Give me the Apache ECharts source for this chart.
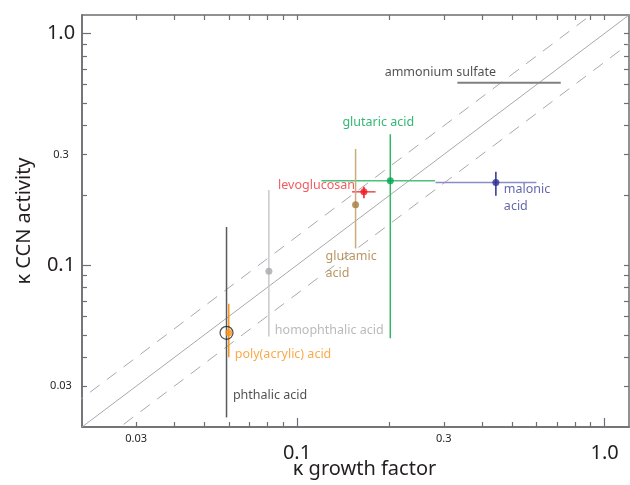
<!DOCTYPE html>
<html>
<head>
<meta charset="utf-8">
<script src="https://cdn.jsdelivr.net/npm/echarts@6/dist/echarts.min.js"></script>
<style>html,body{margin:0;padding:0;background:#fff}#c{width:630px;height:485px}</style>
</head>
<body>
<div id="c"></div>
<script>
// ---- data ----
const names = ['ammonium sulfate','glutaric acid','malonic acid','levoglucosan','glutamic acid','homophthalic acid','poly(acrylic) acid','phthalic acid'];
const kappaGF  = [0.49, 0.201, 0.443, 0.165, 0.155, 0.081, 0.060, 0.059];
const kappaCCN = [0.612, 0.231, 0.227, 0.207, 0.182, 0.094, 0.051, 0.051];
const gfLow    = [0.332, 0.120, 0.282, 0.151, null, null, null, null];
const gfHigh   = [0.720, 0.281, 0.600, 0.180, null, null, null, null];
const ccnLow   = [null, 0.0483, 0.199, 0.194, 0.118, 0.0491, 0.040, 0.0220];
const ccnHigh  = [null, 0.367, 0.253, 0.218, 0.317, 0.211, 0.068, 0.146];
const tickLabelValues = [0.03, 0.1, 0.3, 1.0];
const tickLabels = ['0.03', '0.1', '0.3', '1.0'];
const majorTicks = [0.1, 1.0];
const minorTicks = [0.03,0.04,0.05,0.06,0.07,0.08,0.09,0.2,0.3,0.4,0.5,0.6,0.7,0.8,0.9];
const axisMin = 0.02, axisMax = 1.2;
const bandFactor = 1.33;

// ---- styles ----
const styles = {
  'ammonium sulfate':  {pt:null, v:'#808080', h:'#808080', lw:2, label:{align:'center', offset:[-69,-10], color:'#231f20'}},
  'glutaric acid':     {pt:'#00a651', v:'#2fb866', h:'#4cc27b', lw:1.5, label:{align:'center', offset:[-12,-58], color:'#00a651'}},
  'malonic acid':      {pt:'#2e3192', v:'#2e3192', h:'#8b8ec6', lw:1.5, label:{align:'left', offset:[8,15], color:'#3b3f98'}, text:'malonic\nacid'},
  'levoglucosan':      {pt:'#ed1c24', v:'#ed1c24', h:'#ef4a50', lw:1.5, label:{align:'right', offset:[-9,-6], color:'#ed3237'}},
  'glutamic acid':     {pt:'#a67c3c', v:'#c9ab7f', h:'#c9ab7f', lw:1.5, label:{align:'left', offset:[-30,60], color:'#a67c3c'}, text:'glutamic\nacid'},
  'homophthalic acid': {pt:'#a7a9ac', v:'#c7c9cc', h:'#c7c9cc', lw:1.5, label:{align:'left', offset:[6,59], color:'#a7a9ac'}},
  'poly(acrylic) acid':{pt:'#f7941d', v:'#f7941d', h:'#f7941d', lw:1.5, label:{align:'left', offset:[6,22], color:'#f7941d'}},
  'phthalic acid':     {pt:'open', v:'#58595b', h:'#58595b', lw:1.5, label:{align:'left', offset:[7,63], color:'#231f20'}}
};
const FONT = 'Noto Sans';
const L = v => Math.log10(v);
const lmin = L(axisMin), lmax = L(axisMax);

function fmt(v){
  let best = 0;
  tickLabelValues.forEach((t,i)=>{ if (Math.abs(L(t)-v) < Math.abs(L(tickLabelValues[best])-v)) best = i; });
  const lab = tickLabels[best];
  return (tickLabelValues[best] === 0.1 || tickLabelValues[best] === 1.0) ? '{big|' + lab + '}' : '{small|' + lab + '}';
}
const richX = {big:{fontSize:20, fontFamily:FONT, color:'#231f20', padding:[11,0,0,0]}, small:{fontSize:11, fontFamily:FONT, color:'#231f20', padding:[1,0,0,0]}};
const richY = {big:{fontSize:20, fontFamily:FONT, color:'#231f20'}, small:{fontSize:11, fontFamily:FONT, color:'#231f20'}};
const axisLineStyle = {show:true, onZero:false, lineStyle:{color:'#6d6e71', width:1.5}};
const tickStyle = {color:'#6d6e71', width:1.2};

function mkAxis(pos, kind, isX){
  const a = {type:'value', min:lmin, max:lmax, position:pos, offset:0, splitLine:{show:false},
    axisLine: axisLineStyle, axisLabel:{show:false}, axisPointer:{show:false}};
  if (kind === 'major') {
    a.axisTick = {show:true, inside:true, length:9, lineStyle:tickStyle, customValues: majorTicks.map(L)};
    a.axisLabel = {show:true, customValues: tickLabelValues.map(L), formatter: fmt, rich: isX ? richX : richY,
      margin: isX ? 5 : 21, align:'center'};
    a.name = isX ? 'κ growth factor' : 'κ CCN activity';
    a.nameLocation = 'middle';
    a.nameGap = isX ? 32 : 48;
    a.nameMoveOverlap = false;
    a.nameTextStyle = {fontSize:20, fontFamily:FONT, color:'#231f20', padding: isX ? [0,0,0,18] : [0,0,0,0]};
  } else if (kind === 'minor') {
    a.axisTick = {show:true, inside:true, length:5, lineStyle:tickStyle, customValues: minorTicks.map(L)};
  } else {
    a.axisTick = {show:true, inside:true, length:5, lineStyle:tickStyle, customValues: majorTicks.concat(minorTicks).map(L)};
  }
  return a;
}

const diagX = [L(0.01), L(2)];
function diag(f, dashed){
  return {type:'line', xAxisIndex:0, yAxisIndex:0, silent:true, symbol:'none', clip:true, z:1,
    data: diagX.map(x => [x, x + L(f)]),
    lineStyle:{color:'#a7a9ac', width:1, type: dashed ? [12,9] : 'solid'}};
}

const errSeries = {
  type:'custom', xAxisIndex:0, yAxisIndex:0, silent:true, z:3,
  data: names.map((n,i)=>[L(kappaGF[i]), L(kappaCCN[i]), i]),
  renderItem: function(params, api){
    const i = api.value(2);
    const s = styles[names[i]];
    const children = [];
    if (gfLow[i] !== null) {
      const p1 = api.coord([L(gfLow[i]), L(kappaCCN[i])]);
      const p2 = api.coord([L(gfHigh[i]), L(kappaCCN[i])]);
      children.push({type:'line', shape:{x1:p1[0], y1:p1[1], x2:p2[0], y2:p2[1]}, style:{stroke:s.h, lineWidth:s.lw}});
    }
    if (ccnLow[i] !== null) {
      const p1 = api.coord([L(kappaGF[i]), L(ccnLow[i])]);
      const p2 = api.coord([L(kappaGF[i]), L(ccnHigh[i])]);
      children.push({type:'line', shape:{x1:p1[0], y1:p1[1], x2:p2[0], y2:p2[1]}, style:{stroke:s.v, lineWidth:s.lw}});
    }
    return {type:'group', children};
  }
};

const pointSeries = {
  type:'scatter', xAxisIndex:0, yAxisIndex:0, silent:true, z:5,
  data: names.map((n,i)=>{
    const s = styles[n];
    const item = {value:[L(kappaGF[i]), L(kappaCCN[i])], name:n};
    let size;
    if (s.pt === null) { size = 1; item.itemStyle = {color:'rgba(0,0,0,0)'}; }
    else if (s.pt === 'open') { size = 13; item.itemStyle = {color:'rgba(0,0,0,0)', borderColor:'#231f20', borderWidth:1.2}; }
    else { size = 7; item.itemStyle = {color:s.pt}; }
    item.symbolSize = size;
    item.label = {show:true, position:[size/2 + s.label.offset[0], size/2 + s.label.offset[1]], formatter: s.text || n,
      align:s.label.align, verticalAlign:'middle', color:s.label.color, fontSize:12.5, fontFamily:FONT, lineHeight:17};
    return item;
  })
};

const chart = echarts.init(document.getElementById('c'), null, {renderer:'canvas'});
chart.setOption({
  animation:false,
  grid:{left:82, right:1, top:15, bottom:58, containLabel:false, outerBoundsMode:'none'},
  xAxis:[mkAxis('bottom','major',true), mkAxis('bottom','minor',true), mkAxis('top','all',true)],
  yAxis:[mkAxis('left','major',false), mkAxis('left','minor',false), mkAxis('right','all',false)],
  series:[diag(1,false), diag(bandFactor,true), diag(1/bandFactor,true), errSeries, pointSeries]
});
</script>
</body>
</html>
